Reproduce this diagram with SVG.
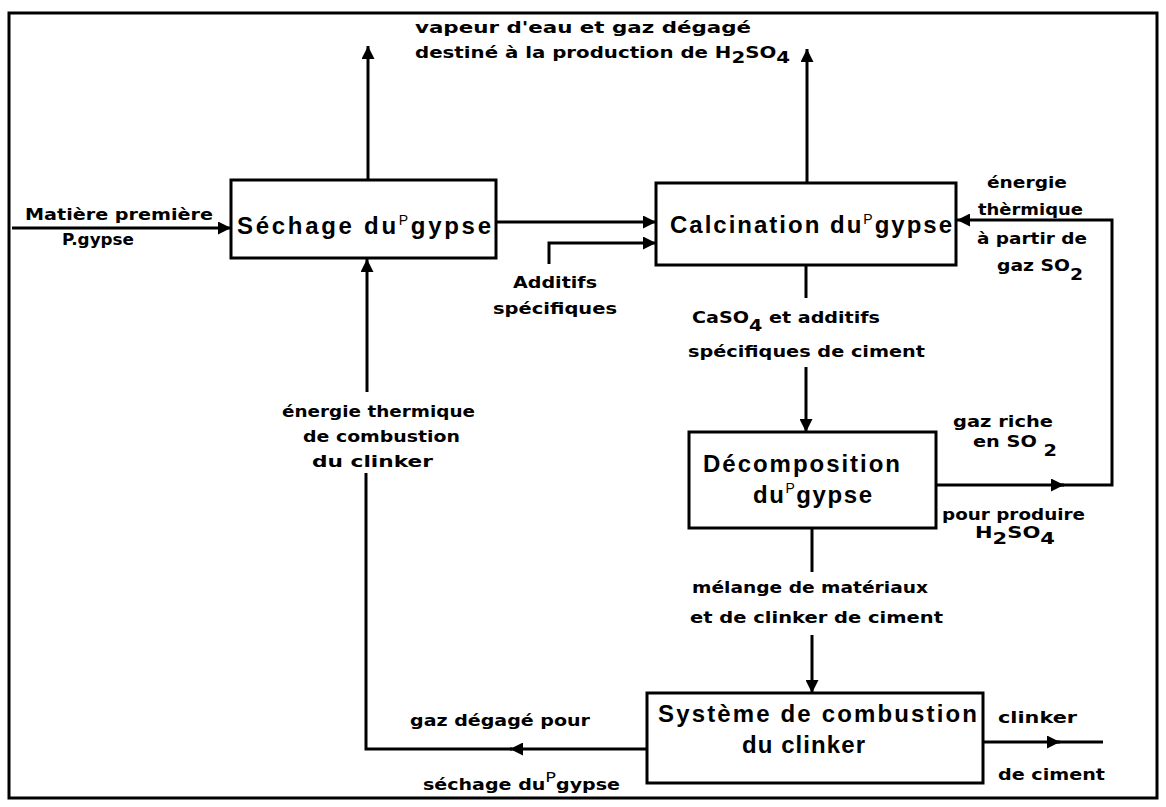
<svg xmlns="http://www.w3.org/2000/svg" width="1166" height="807" viewBox="0 0 1166 807">
<defs>
<marker id="ah" viewBox="0 0 10 10" refX="10" refY="5" markerWidth="15" markerHeight="13" markerUnits="userSpaceOnUse" orient="auto"><path d="M0,0 L10,5 L0,10 z" fill="#000"/></marker>
<style>
.box{fill:#fff;stroke:#000;stroke-width:3}
.btxt{font-family:"Liberation Sans",Arial,sans-serif;font-size:24px;font-weight:bold;fill:#000}
.lbl{font-family:"DejaVu Sans","Liberation Sans",sans-serif;font-size:15px;font-weight:bold;fill:#000}
.p{font-size:14px;font-weight:normal}
.c{fill:none;stroke:#000;stroke-width:3}
.ca{fill:none;stroke:#000;stroke-width:3;marker-end:url(#ah)}
</style>
</defs>
<rect width="1166" height="807" fill="#fff"/>
<rect x="9" y="13" width="1148" height="785" fill="none" stroke="#000" stroke-width="3"/>

<g id="connectors">
<path class="ca" d="M12,228 H231"/>
<path class="ca" d="M368,180 V46"/>
<path class="ca" d="M496,222 H656"/>
<path class="ca" d="M549,264 V243 H656"/>
<path class="ca" d="M807,183 V49"/>
<path class="c" d="M806,265 V298"/>
<path class="ca" d="M806,367 V432"/>
<path class="ca" d="M936,485 H1064"/>
<path class="ca" d="M1060,485 H1112 V220 H957"/>
<path class="c" d="M812,528 V572"/>
<path class="ca" d="M812,635 V693"/>
<path class="ca" d="M647,749 H510"/>
<path class="c" d="M512,749 H366 V473"/>
<path class="ca" d="M367,392 V259"/>
<path class="ca" d="M983,742 H1060"/>
<path class="c" d="M1056,742 H1103"/>
</g>

<g id="sechage">
<rect class="box" x="231" y="180" width="265" height="78"/>
<text class="btxt" x="237" y="234" textLength="254" lengthAdjust="spacing">Séchage du<tspan class="p" dy="-9">P</tspan><tspan dy="9">gypse</tspan></text>
</g>

<g id="calcination">
<rect class="box" x="656" y="183" width="300" height="82"/>
<text class="btxt" x="670" y="233" textLength="282" lengthAdjust="spacing">Calcination du<tspan class="p" dy="-9">P</tspan><tspan dy="9">gypse</tspan></text>
</g>

<g id="decomposition">
<rect class="box" x="689" y="432" width="247" height="96"/>
<text class="btxt" x="703" y="472" textLength="197" lengthAdjust="spacing">Décomposition</text>
<text class="btxt" x="753" y="503" textLength="119" lengthAdjust="spacing">du<tspan class="p" dy="-10">P</tspan><tspan dy="10">gypse</tspan></text>
</g>

<g id="combustion">
<rect class="box" x="647" y="693" width="336" height="90"/>
<text class="btxt" x="658" y="722" textLength="319" lengthAdjust="spacing">Système de combustion</text>
<text class="btxt" x="742" y="753" textLength="123" lengthAdjust="spacing">du clinker</text>
</g>

<g id="labels">
<text class="lbl" x="415" y="33" textLength="336" lengthAdjust="spacingAndGlyphs">vapeur d'eau  et  gaz dégagé</text>
<text class="lbl" x="415" y="58" textLength="375" lengthAdjust="spacingAndGlyphs">destiné  à la production de H<tspan dy="5">2</tspan><tspan dy="-5">SO</tspan><tspan dy="5">4</tspan></text>
<text class="lbl" x="25" y="220" textLength="188" lengthAdjust="spacingAndGlyphs">Matière première</text>
<text class="lbl" x="62" y="245" textLength="72" lengthAdjust="spacingAndGlyphs">P.gypse</text>
<text class="lbl" x="513" y="288" textLength="84" lengthAdjust="spacingAndGlyphs">Additifs</text>
<text class="lbl" x="493" y="314" textLength="124" lengthAdjust="spacingAndGlyphs">spécifiques</text>
<text class="lbl" x="692" y="323" textLength="188" lengthAdjust="spacingAndGlyphs">CaSO<tspan dy="8">4</tspan><tspan dy="-8"> et additifs</tspan></text>
<text class="lbl" x="688" y="357" textLength="237" lengthAdjust="spacingAndGlyphs">spécifiques de ciment</text>
<text class="lbl" x="987" y="188" textLength="80" lengthAdjust="spacingAndGlyphs">énergie</text>
<text class="lbl" x="978" y="215" textLength="105" lengthAdjust="spacingAndGlyphs">thèrmique</text>
<text class="lbl" x="977" y="244" textLength="110" lengthAdjust="spacingAndGlyphs">à partir de</text>
<text class="lbl" x="997" y="271" textLength="86" lengthAdjust="spacingAndGlyphs">gaz SO<tspan dy="9">2</tspan></text>
<text class="lbl" x="953" y="427" textLength="100" lengthAdjust="spacingAndGlyphs">gaz riche</text>
<text class="lbl" x="973" y="447" textLength="84" lengthAdjust="spacingAndGlyphs">en SO <tspan dy="9">2</tspan></text>
<text class="lbl" x="942" y="520" textLength="143" lengthAdjust="spacingAndGlyphs">pour produire</text>
<text class="lbl" x="975" y="538" textLength="80" lengthAdjust="spacingAndGlyphs">H<tspan dy="6">2</tspan><tspan dy="-6">SO</tspan><tspan dy="6">4</tspan></text>
<text class="lbl" x="282" y="417" textLength="193" lengthAdjust="spacingAndGlyphs">énergie thermique</text>
<text class="lbl" x="303" y="442" textLength="157" lengthAdjust="spacingAndGlyphs">de combustion</text>
<text class="lbl" x="312" y="467" textLength="121" lengthAdjust="spacingAndGlyphs">du   clinker</text>
<text class="lbl" x="692" y="593" textLength="236" lengthAdjust="spacingAndGlyphs">mélange de matériaux</text>
<text class="lbl" x="690" y="623" textLength="253" lengthAdjust="spacingAndGlyphs">et de clinker de ciment</text>
<text class="lbl" x="410" y="726" textLength="180" lengthAdjust="spacingAndGlyphs">gaz dégagé pour</text>
<text class="lbl" x="423" y="790" textLength="197" lengthAdjust="spacingAndGlyphs">séchage du<tspan class="p" font-size="12" dy="-8">P</tspan><tspan dy="8">gypse</tspan></text>
<text class="lbl" x="998" y="723" textLength="79" lengthAdjust="spacingAndGlyphs">clinker</text>
<text class="lbl" x="998" y="780" textLength="107" lengthAdjust="spacingAndGlyphs">de ciment</text>
</g>
</svg>
